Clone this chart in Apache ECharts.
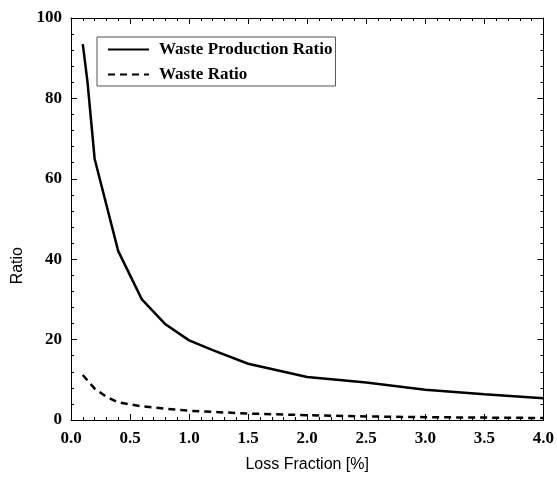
<!DOCTYPE html>
<html>
<head>
<meta charset="utf-8">
<script src="https://cdn.jsdelivr.net/npm/echarts@6/dist/echarts.min.js"></script>
<style>
  html, body { margin: 0; padding: 0; background: #fff; }
  #chart { width: 557px; height: 478px; }
</style>
</head>
<body>
<div id="chart"></div>
<script>
// loss fraction [%] and ratios
const wprX = [0.1, 0.14, 0.2, 0.4, 0.6, 0.8, 1.0, 1.2, 1.5, 2.0, 2.5, 3.0, 3.5, 4.0]
const wprY = [93.5, 84, 65, 42, 30, 23.8, 19.8, 17.4, 14, 10.7, 9.3, 7.5, 6.4, 5.4]
const wrX = [0.1, 0.2, 0.3, 0.4, 0.6, 0.8, 1.0, 1.5, 2.0, 2.5, 3.0, 3.5, 4.0]
const wrY = [11.2, 7.8, 5.8, 4.4, 3.4, 2.8, 2.3, 1.6, 1.2, 0.9, 0.7, 0.6, 0.5]
const seriesNames = ['Waste Production Ratio', 'Waste Ratio']

const serif = '"Liberation Serif", "DejaVu Serif", serif'
const sans = '"Liberation Sans", Arial, sans-serif'

function pairs(xs, ys) {
  return xs.map((x, i) => [x, ys[i]])
}

const chart = echarts.init(document.getElementById('chart'))

const tickCommon = {
  axisLine: { show: true, onZero: false, lineStyle: { color: '#000', width: 1 } },
  axisTick: { show: true, inside: true, length: 6, lineStyle: { color: '#000' } },
  minorTick: { show: true, splitNumber: 5, length: 3, lineStyle: { color: '#000' } },
  splitLine: { show: false }
}

chart.setOption({
  animation: false,
  grid: { left: 71, right: 11, top: 18, bottom: 49 },
  legend: {
    orient: 'vertical',
    left: 97,
    top: 37,
    padding: [4, 3, 3, 10],
    itemWidth: 41,
    itemHeight: 14,
    itemGap: 8,
    borderColor: '#555',
    borderWidth: 1,
    data: seriesNames,
    itemStyle: { opacity: 0 },
    textStyle: { fontFamily: serif, fontWeight: 'bold', fontSize: 17, color: '#000', padding: [0, 0, 0, 5] }
  },
  xAxis: [
    Object.assign({
      type: 'value', min: 0, max: 4, interval: 0.5, position: 'bottom',
      name: 'Loss Fraction [%]', nameLocation: 'middle', nameGap: 37,
      nameTextStyle: { fontFamily: sans, fontSize: 16, color: '#000' },
      axisLabel: { fontFamily: serif, fontWeight: 'bold', fontSize: 17, color: '#000', margin: 10,
        formatter: v => v.toFixed(1) }
    }, tickCommon),
    Object.assign({
      type: 'value', min: 0, max: 4, interval: 0.5, position: 'top',
      axisLabel: { show: false }
    }, tickCommon)
  ],
  yAxis: [
    Object.assign({
      type: 'value', min: 0, max: 100, interval: 20, position: 'left',
      axisLabel: { fontFamily: serif, fontWeight: 'bold', fontSize: 17, color: '#000', margin: 9 }
    }, tickCommon),
    Object.assign({
      type: 'value', min: 0, max: 100, interval: 20, position: 'right',
      axisLabel: { show: false }
    }, tickCommon)
  ],
  graphic: [{
    type: 'text',
    left: 10,
    top: 247,
    rotation: Math.PI / 2,
    style: { text: 'Ratio', font: '16px ' + sans, fill: '#000' }
  }],
  series: [
    {
      name: seriesNames[0],
      type: 'line',
      xAxisIndex: 0, yAxisIndex: 0,
      symbol: 'none',
      itemStyle: { color: '#000' },
      lineStyle: { color: '#000', width: 2.5, type: 'solid' },
      data: pairs(wprX, wprY)
    },
    {
      name: seriesNames[1],
      type: 'line',
      xAxisIndex: 0, yAxisIndex: 0,
      symbol: 'none',
      itemStyle: { color: '#000' },
      lineStyle: { color: '#000', width: 2.5, type: [7, 5] },
      data: pairs(wrX, wrY)
    }
  ]
})
</script>
</body>
</html>
